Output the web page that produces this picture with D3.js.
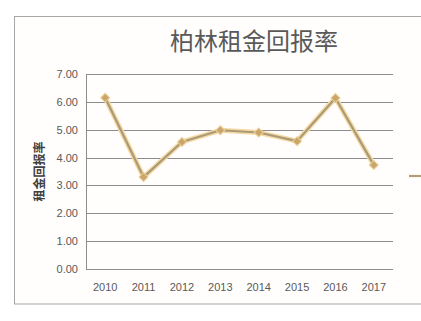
<!DOCTYPE html>
<html>
<head>
<meta charset="UTF-8">
<style>
  body { margin: 0; background: #ffffff; }
  svg { display: block; font-family: "Liberation Sans", "DejaVu Sans", sans-serif; }
</style>
</head>
<body>
<svg id="chart" width="421" height="321"></svg>
<script src="https://d3js.org/d3.v7.min.js"></script>
<script>
  var years = ["2010", "2011", "2012", "2013", "2014", "2015", "2016", "2017"];
  var rates = [6.15, 3.30, 4.56, 4.98, 4.90, 4.59, 6.14, 3.73];
  var yTicks = [0, 1, 2, 3, 4, 5, 6, 7];

  var svg = d3.select("#chart");

  // outer chart frame (runs off the right edge)
  svg.append("rect")
    .attr("x", 14.5).attr("y", 16.5)
    .attr("width", 430).attr("height", 287.5)
    .attr("fill", "#fffefd")
    .attr("stroke", "#a6a6a6")
    .attr("stroke-width", 1);

  var plot = { left: 86, right: 393, top: 74, bottom: 269 };

  var x = d3.scaleBand().domain(years).range([plot.left, plot.right]);
  var y = d3.scaleLinear().domain([0, 7]).range([plot.bottom, plot.top]);

  // grid lines
  svg.append("g")
    .selectAll("line")
    .data(yTicks)
    .join("line")
    .attr("x1", plot.left).attr("x2", plot.right)
    .attr("y1", function(d) { return Math.round(y(d)) + 0.5; })
    .attr("y2", function(d) { return Math.round(y(d)) + 0.5; })
    .attr("stroke", "#8c8c8c")
    .attr("stroke-width", 1);

  // left axis line
  svg.append("line")
    .attr("x1", plot.left + 0.5).attr("x2", plot.left + 0.5)
    .attr("y1", plot.top).attr("y2", plot.bottom + 0.5)
    .attr("stroke", "#8c8c8c");

  var yAxis = svg.append("g")
    .attr("transform", "translate(" + (plot.left - 6) + ",0)")
    .call(d3.axisLeft(y).tickValues(yTicks).tickFormat(d3.format(".2f")).tickSize(0).tickPadding(2));
  yAxis.select(".domain").remove();
  yAxis.selectAll("text").attr("fill", "#595959").attr("font-size", 11);

  var xAxis = svg.append("g")
    .attr("transform", "translate(0," + (plot.bottom + 12) + ")")
    .call(d3.axisBottom(x).tickSize(0).tickPadding(2));
  xAxis.select(".domain").remove();
  xAxis.selectAll("text").attr("fill", "#595959").attr("font-size", 11);

  // title
  svg.append("text")
    .attr("x", 254).attr("y", 50)
    .attr("text-anchor", "middle")
    .attr("font-family", "'Noto Sans CJK SC', sans-serif")
    .attr("font-size", 24)
    .attr("fill", "#595959")
    .text("柏林租金回报率");

  // y axis title
  svg.append("text")
    .attr("transform", "translate(44," + ((plot.top + plot.bottom) / 2) + ") rotate(-90)")
    .attr("text-anchor", "middle")
    .attr("font-family", "'Noto Sans CJK SC', sans-serif")
    .attr("font-size", 12)
    .attr("font-weight", "bold")
    .attr("fill", "#404040")
    .text("租金回报率");

  var cx = function(d, i) { return x(years[i]) + x.bandwidth() / 2; };
  var line = d3.line()
    .x(function(d, i) { return cx(d, i); })
    .y(function(d) { return y(d); });

  // soft glow under the line
  svg.append("path")
    .datum(rates)
    .attr("d", line)
    .attr("fill", "none")
    .attr("stroke", "#f6d9a2")
    .attr("stroke-width", 5)
    .attr("stroke-linejoin", "round");

  svg.append("path")
    .datum(rates)
    .attr("d", line)
    .attr("fill", "none")
    .attr("stroke", "#a99a78")
    .attr("stroke-width", 2.2)
    .attr("stroke-linejoin", "round");

  var marker = d3.symbol().type(d3.symbolSquare).size(40);
  svg.append("g")
    .selectAll("path")
    .data(rates)
    .join("path")
    .attr("d", marker)
    .attr("transform", function(d, i) { return "translate(" + cx(d, i) + "," + y(d) + ") rotate(45)"; })
    .attr("fill", "#c8a66c")
    .attr("stroke", "#efcf95")
    .attr("stroke-width", 1);

  // legend stub cut off at the right edge
  svg.append("line")
    .attr("x1", 409).attr("x2", 425)
    .attr("y1", 176).attr("y2", 176)
    .attr("stroke", "#b39e78")
    .attr("stroke-width", 2.2);
</script>
</body>
</html>
